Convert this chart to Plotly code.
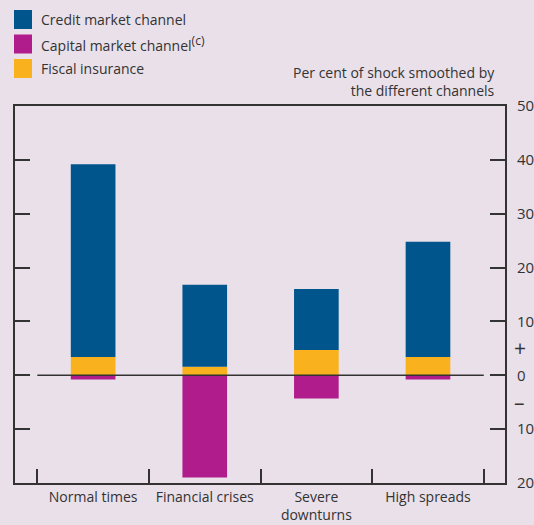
import plotly.graph_objects as go

categories = ["Normal times", "Financial crises", "Severe<br>downturns", "High spreads"]
credit_market = [35.8, 15.2, 11.3, 21.4]
capital_market = [-0.8, -19.0, -4.3, -0.8]
fiscal_insurance = [3.4, 1.6, 4.7, 3.4]
tick_vals = [-20, -10, 0, 10, 20, 30, 40, 50]
tick_text = ["20", "10", "0", "10", "20", "30", "40", "50"]

BLUE = "#00558C"
MAGENTA = "#B01C8B"
ORANGE = "#F9B11D"
BG = "#E9E0EA"
INK = "#333333"
FONT = "Open Sans"

W, H = 534, 525
L, R, T, B = 15, 29, 106, 42

fig = go.Figure()
fig.add_trace(go.Bar(x=categories, y=fiscal_insurance, name="Fiscal insurance",
                     marker=dict(color=ORANGE, line=dict(width=0)), width=0.4))
fig.add_trace(go.Bar(x=categories, y=credit_market, name="Credit market channel",
                     marker=dict(color=BLUE, line=dict(width=0)), width=0.4))
fig.add_trace(go.Bar(x=categories, y=capital_market, name="Capital market channel",
                     marker=dict(color=MAGENTA, line=dict(width=0)), width=0.4))

# zero line between the outer category boundaries
fig.add_shape(type="line", xref="x", yref="y", x0=-0.5, x1=3.5, y0=0, y1=0,
              line=dict(color=INK, width=1.5), layer="above")

# legend drawn manually (large square keys)
pw, ph = W - L - R, H - T - B
def px_x(px):
    return (px - L) / pw
def px_y(py):
    return (H - B - py) / ph

legend_items = [("Credit market channel", BLUE),
                ("Capital market channel<sup><span style='font-size:12px'>(c)</span></sup>", MAGENTA),
                ("Fiscal insurance", ORANGE)]
for i, (label, col) in enumerate(legend_items):
    top = 10 + i * 24.5
    fig.add_shape(type="rect", xref="paper", yref="paper",
                  x0=px_x(14), x1=px_x(32), y0=px_y(top + 19), y1=px_y(top),
                  fillcolor=col, line=dict(width=0))
    fig.add_annotation(xref="paper", yref="paper", x=px_x(39), y=px_y(top + 9.5),
                       text=label, showarrow=False, xanchor="left", yanchor="middle",
                       font=dict(family=FONT, size=14, color=INK))

fig.add_annotation(xref="paper", yref="paper", x=px_x(497), y=px_y(102),
                   text="Per cent of shock smoothed by<br>the different channels",
                   showarrow=False, xanchor="right", yanchor="bottom", align="right",
                   font=dict(family=FONT, size=14, color=INK))

for val, sym in [(5, "+"), (-5, "–")]:
    fig.add_annotation(xref="paper", yref="y", x=px_x(512), y=val, text=sym,
                       showarrow=False, xanchor="left", yanchor="middle",
                       font=dict(family=FONT, size=21, color=INK))

fig.update_layout(
    width=W, height=H,
    margin=dict(l=L, r=R, t=T, b=B, autoexpand=False),
    paper_bgcolor=BG, plot_bgcolor=BG,
    barmode="relative", showlegend=False,
    font=dict(family=FONT, size=14, color=INK),
    xaxis=dict(type="category", range=[-0.70, 3.69], tickson="boundaries",
               ticks="inside", ticklen=14, tickwidth=1.5, tickcolor=INK,
               showline=True, linecolor=INK, linewidth=2, mirror=True,
               showgrid=False, zeroline=False, automargin=False,
               tickfont=dict(family=FONT, size=14, color=INK)),
    yaxis=dict(range=[-20, 50], side="right", tickvals=tick_vals, ticktext=tick_text,
               ticks="inside", ticklen=15, tickwidth=1.5, tickcolor=INK,
               showline=True, linecolor=INK, linewidth=2, mirror="ticks",
               showgrid=False, zeroline=False, ticklabelstandoff=7, automargin=False,
               tickfont=dict(family=FONT, size=15, color=INK)),
)

fig.write_html("out.html", config={"displayModeBar": False})

# remove the default page margin so the chart fills the window exactly
with open("out.html", "r", encoding="utf-8") as f:
    html = f.read()
html = html.replace("<head>", "<head><style>html,body{margin:0;padding:0;overflow:hidden;}</style>", 1)
with open("out.html", "w", encoding="utf-8") as f:
    f.write(html)
